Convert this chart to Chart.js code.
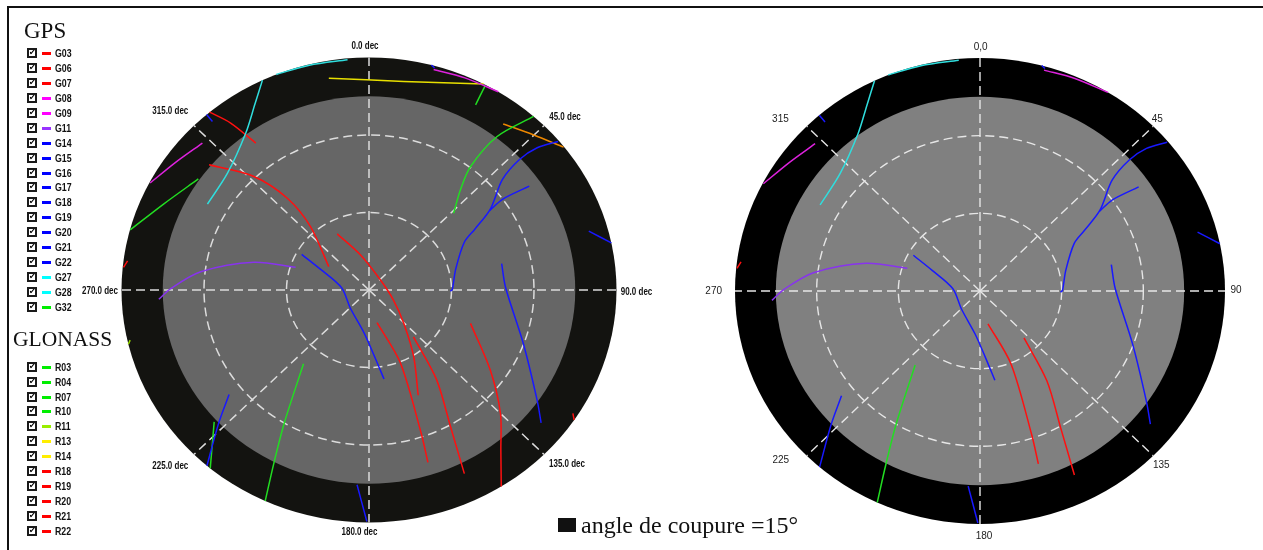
<!DOCTYPE html>
<html><head><meta charset="utf-8">
<script src="https://cdn.jsdelivr.net/npm/chart.js@4.4.1/dist/chart.umd.min.js"></script>
<style>
html,body{margin:0;padding:0;background:#fff;width:1263px;height:550px;overflow:hidden;position:relative;}
canvas{position:absolute;top:0;}
#frame{position:absolute;left:7px;top:6px;width:1300px;height:600px;border-left:2px solid #111;border-top:2px solid #111;}
.hd{position:absolute;font-family:"Liberation Serif","Times New Roman",serif;line-height:1;color:#111;white-space:nowrap;}
.row{position:absolute;left:0;height:12px;width:100px;}
.cb{position:absolute;left:27px;top:1px;width:6px;height:6px;border:2px solid #1a1a1a;background:#fff;font:bold 8px "DejaVu Sans",sans-serif;line-height:6px;text-align:center;color:#000;overflow:hidden;}
.dash{position:absolute;left:42px;top:5px;width:9px;height:3px;}
.lbl{position:absolute;left:55px;top:0;font:bold 11px "Liberation Sans",Arial,sans-serif;line-height:12px;color:#111;white-space:nowrap;transform:scaleX(0.8);transform-origin:0 50%;}
#cut{position:absolute;left:581px;top:513px;font-family:"Liberation Serif","Times New Roman",serif;font-size:24px;line-height:1;color:#111;white-space:nowrap;}
#cutsq{position:absolute;left:558px;top:518px;width:18px;height:14px;background:#111;}
</style></head>
<body>
<div id="frame"></div>
<canvas id="left" width="660" height="550" style="left:0"></canvas>
<canvas id="right" width="603" height="550" style="left:660px"></canvas>
<div class="hd" style="left:24px;top:19px;font-size:23px">GPS</div>
<div class="hd" style="left:13px;top:329px;font-size:21.5px">GLONASS</div>
<div id="cutsq"></div><div id="cut">angle de coupure =15°</div>
<script>
// ---- Legend data ----
const gpsNames = ['G03','G06','G07','G08','G09','G11','G14','G15','G16','G17','G18','G19','G20','G21','G22','G27','G28','G32'];
const gpsColors = ['#ff0000','#ff0000','#ff0000','#ff00ff','#ff00ff','#9933ff','#0000ff','#0000ff','#0000ff','#0000ff','#0000ff','#0000ff','#0000ff','#0000ff','#0000ff','#00ffff','#00ffff','#00ee00'];
const glonassNames = ['R03','R04','R07','R10','R11','R13','R14','R18','R19','R20','R21','R22'];
const glonassColors = ['#00ee00','#00ee00','#00ee00','#00ee00','#99ee00','#ffee00','#ffee00','#ff0000','#ff0000','#ff0000','#ff0000','#ff0000'];

// ---- Satellite tracks: [azimuth deg, elevation deg] ----
const trkG03 = [[167,77],[158,59.6],[161.1,31.5],[162.2,19.9]];
const trkG06 = [[138.3,65.7],[144.7,47.5],[150.7,29.5],[154,10.9]];
const trkG07 = [[275.6,0.3],[277.3,1.5]];
const trkG08 = [[15.4,1.5],[23,0.8],[31.5,0]];
const trkG09 = [[313.2,6.9],[305,4],[297.5,0.3]];
const trkG11 = [[267.3,13.5],[270.5,18],[276.6,28.4],[284.4,46.8],[288.2,61.9]];
const trkG14 = [[299.4,61.9],[294.4,70.7],[274.9,80],[225,80.3],[186.2,73.3],[175.6,64.3],[171,55.1]];
const trkG15 = [[50.1,0.4],[48,7.7],[47.3,15.4],[48.6,25.3],[54.7,36],[58.6,45],[62,50.8],[75.8,57.5],[89.6,59.7],[90.9,60.4]];
const trkG16 = [[55.4,19.2],[54.1,30.1],[55,36.5]];
const trkG17 = [[78.1,40.7],[89,40.3],[110.1,30.3],[124.8,15.6],[129.4,9]];
const trkG18 = [[74.1,6.9],[78.3,0]];
const trkG19 = [[231.5,25],[226.7,14.9],[220.9,0]];
const trkG20 = [[183.3,14.5],[180.5,0.4]];
const trkG21 = [[319,0],[318.9,3.4]];
const trkG22 = [[14.6,0],[15.5,0.8]];
const trkG27 = [[355,0.5],[346,0.3],[338,0]];
const trkG28 = [[334.5,0],[330,7],[323.6,14.5],[311.3,21.5],[299.5,22.5]];
const trkG32 = [[219.8,52.8],[210.9,30],[207.3,14.6],[204.8,0]];

const trkR03 = [[41.7,0],[38.1,14.5],[37.7,29.6],[40.6,38.9],[46,47.2]];
const trkR04 = [[304.7,14.5],[294.1,8.3],[285,0.1]];
const trkR07 = [[227.8,14],[219.9,0]];
const trkR10 = [[28.1,0.3],[28.4,8.5]];
const trkR11 = [[257.4,1],[256.5,0]];
const trkR13 = [[349.9,6.7],[8.9,8.3],[27.6,0]];
const trkR14 = [[37.2,9.3],[44.8,5.3],[52,0.2]];
const trkR18 = [[319.9,0],[322.1,8.1],[324.1,19.8]];
const trkR19 = [[309.8,14.3],[316.4,29.3],[320.1,43.7],[319.1,57.5],[301.7,72.8]];
const trkR20 = [[332,65.4],[347.2,76.1],[47,84.3],[113.6,80.3],[135.6,71.9],[147.8,59.5],[156.3,45.5]];
const trkR21 = [[109.3,50.9],[125.1,36.1],[135,22.4],[142.3,11.6],[147.7,0]];
const trkR22 = [[122.8,1.8],[124,0]];

const gpsTracks = [trkG03,trkG06,trkG07,trkG08,trkG09,trkG11,trkG14,trkG15,trkG16,trkG17,trkG18,trkG19,trkG20,trkG21,trkG22,trkG27,trkG28,trkG32];
const glonassTracks = [trkR03,trkR04,trkR07,trkR10,trkR11,trkR13,trkR14,trkR18,trkR19,trkR20,trkR21,trkR22];
const gpsTrackColors = ['#ff1010','#ff1010','#ff1010','#dd22dd','#dd22dd','#8833ee','#1818ff','#1818ff','#1818ff','#1818ff','#1818ff','#1818ff','#1818ff','#1818ff','#1818ff','#30dede','#30dede','#22dd22'];
const glonassTrackColors = ['#22dd22','#22dd22','#22dd22','#22dd22','#99e000','#e8e000','#ee8800','#ff1010','#ff1010','#ff1010','#ff1010','#ff1010'];

// ---- Grid ----
const cutoffElevation = 15;
const ringElevations = [30, 60];
const spokeAzimuths = [0,45,90,135,180,225,270,315];
const leftLabels = ['0.0 dec','45.0 dec','90.0 dec','135.0 dec','180.0 dec','225.0 dec','270.0 dec','315.0 dec'];
const rightLabels = ['0,0','45','90','135','180','225','270','315'];

// ---- Legend ----
function buildLegend(names, colors, firstCenter, step){
  names.forEach((n,i)=>{
    const row=document.createElement('div'); row.className='row';
    row.style.top=(firstCenter+i*step-6)+'px';
    row.innerHTML='<span class="cb">\u2714</span><span class="dash" style="background:'+colors[i]+'"></span><span class="lbl">'+n+'</span>';
    document.body.appendChild(row);
  });
}
buildLegend(gpsNames, gpsColors, 53.3, 14.9);
buildLegend(glonassNames, glonassColors, 366.7, 14.9);

// ---- Sky plot ----
const D2R = Math.PI/180;
function project(trk){ return trk.map(([az,el])=>({x:(90-el)*Math.sin(az*D2R), y:(90-el)*Math.cos(az*D2R)})); }

const skyPlugin = {
  id:'sky',
  beforeDatasetsDraw(chart, args, o){
    const {ctx, scales:{x,y}} = chart;
    const cx=x.getPixelForValue(0), cy=y.getPixelForValue(0);
    const rx=z=>Math.abs(x.getPixelForValue(z)-cx), ry=z=>Math.abs(y.getPixelForValue(z)-cy);
    ctx.save();
    ctx.fillStyle=o.black; ctx.beginPath(); ctx.ellipse(cx,cy,rx(90),ry(90),0,0,2*Math.PI); ctx.fill();
    ctx.fillStyle=o.gray; ctx.beginPath(); ctx.ellipse(cx,cy,rx(90-cutoffElevation),ry(90-cutoffElevation),0,0,2*Math.PI); ctx.fill();
    ctx.strokeStyle=o.dash; ctx.lineWidth=o.dashWidth; ctx.setLineDash(o.pattern);
    ringElevations.forEach(e=>{ ctx.beginPath(); ctx.ellipse(cx,cy,rx(90-e),ry(90-e),0,0,2*Math.PI); ctx.stroke(); });
    spokeAzimuths.forEach(a=>{
      ctx.beginPath(); ctx.moveTo(cx,cy);
      ctx.lineTo(x.getPixelForValue(90*Math.sin(a*D2R)), y.getPixelForValue(90*Math.cos(a*D2R)));
      ctx.stroke();
    });
    ctx.restore();
  },
  afterDraw(chart, args, o){
    const {ctx, scales:{x,y}} = chart;
    o.labels.forEach((t,i)=>{
      const a=spokeAzimuths[i];
      const px=x.getPixelForValue(90*Math.sin(a*D2R))+o.offsets[i][0];
      const py=y.getPixelForValue(90*Math.cos(a*D2R))+o.offsets[i][1];
      ctx.save(); ctx.font=o.font; ctx.fillStyle=o.textColor; ctx.textAlign='center'; ctx.textBaseline='middle';
      ctx.translate(px,py); ctx.scale(o.squeeze,1); ctx.fillText(t,0,0);
      ctx.restore();
    });
  }
};

function makeSky(id, tracks, colors, pad, sky){
  const datasets = tracks.map((t,i)=>({data:project(t), showLine:true, borderColor:colors[i], borderWidth:1.5, pointRadius:0, tension:0.3, fill:false}));
  return new Chart(document.getElementById(id), {
    type:'scatter',
    data:{datasets},
    options:{
      responsive:false, animation:false, events:[],
      layout:{padding:pad},
      scales:{x:{type:'linear',min:-90,max:90,display:false},y:{type:'linear',min:-90,max:90,display:false}},
      plugins:{legend:{display:false},tooltip:{enabled:false},sky}
    },
    plugins:[skyPlugin]
  });
}

makeSky('left', gpsTracks.concat(glonassTracks), gpsTrackColors.concat(glonassTrackColors),
  {left:121.5,right:43.5,top:57.5,bottom:27.5},
  {black:'#131310',gray:'#666666',dash:'#dcdcdc',dashWidth:1.5,pattern:[9,5],
   font:'bold 10px "Liberation Sans",Arial,sans-serif',textColor:'#111',squeeze:0.8,
   labels:leftLabels,
   offsets:[[-4,-11.5],[21,-8.6],[20,2],[23,9.6],[-9.5,9.5],[-23.7,12],[-21.5,1.5],[-23.7,-14.6]]});

makeSky('right', gpsTracks, gpsTrackColors,
  {left:75,right:38,top:58,bottom:26},
  {black:'#000000',gray:'#808080',dash:'#e6e6e6',dashWidth:1.4,pattern:[9,5],
   font:'10px "Liberation Sans",Arial,sans-serif',textColor:'#222',squeeze:1,
   labels:rightLabels,
   offsets:[[0.6,-11],[4,-7.2],[11,-1],[8,9.2],[4,12],[-26,4.2],[-21.3,0],[-26.3,-7.2]]});
</script>
</body></html>
